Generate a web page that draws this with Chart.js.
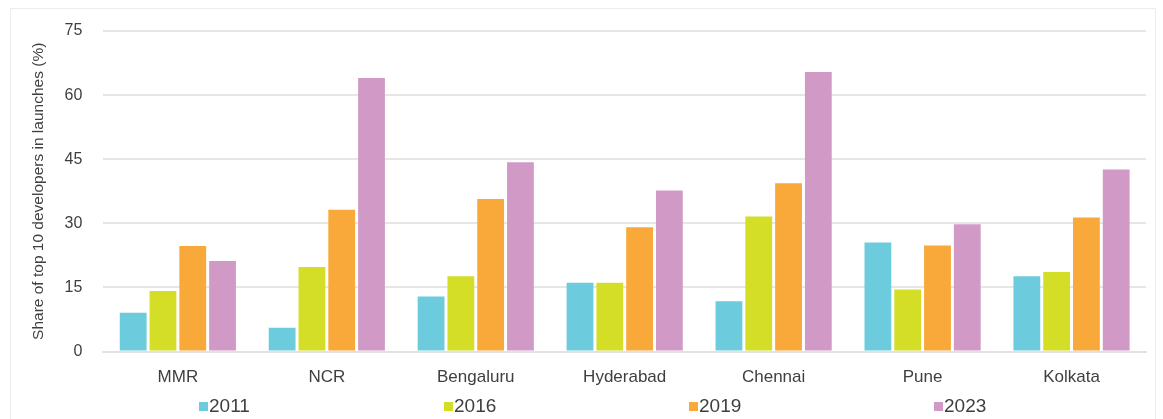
<!DOCTYPE html>
<html>
<head>
<meta charset="utf-8">
<script src="https://cdn.jsdelivr.net/npm/chart.js@4"></script>
<style>
  html, body { margin: 0; padding: 0; background: #fff; overflow: hidden; }
  #wrap { position: relative; width: 1163px; height: 419px; }
  #frame { position: absolute; left: 10px; top: 8px; right: 7px; bottom: -4px; border: 1px solid #ececec; pointer-events: none; }
</style>
</head>
<body>
<div id="wrap">
  <canvas id="chart" width="1163" height="419"></canvas>
  <div id="frame"></div>
</div>
<script>
const cities = ['MMR', 'NCR', 'Bengaluru', 'Hyderabad', 'Chennai', 'Pune', 'Kolkata']
const years = ['2011', '2016', '2019', '2023']
const share2011 = [9.1, 5.6, 12.9, 16.1, 11.8, 25.5, 17.6]
const share2016 = [14.2, 19.8, 17.6, 16.1, 31.6, 14.5, 18.6]
const share2019 = [24.7, 33.2, 35.7, 29.1, 39.4, 24.8, 31.4]
const share2023 = [21.2, 64.0, 44.3, 37.7, 65.4, 29.8, 42.6]
const colors = ['#6ccbdc', '#d4de27', '#f8a93a', '#d19ac6']

const font = "'Liberation Sans', Arial, sans-serif"
const textColor = '#3f3f3f'

const series = [share2011, share2016, share2019, share2023]

// legend items sit far apart in the original, so draw them by hand
const spreadLegend = {
	id: 'spreadLegend',
	afterDraw(chart) {
		const { ctx } = chart
		const startX = 199
		const step = 245
		const y = 406
		ctx.save()
		ctx.font = '19px ' + font
		ctx.textBaseline = 'middle'
		ctx.textAlign = 'left'
		chart.data.datasets.forEach((ds, i) => {
			const x = startX + i * step
			ctx.fillStyle = ds.backgroundColor
			ctx.fillRect(x, y - 4, 9, 9)
			ctx.fillStyle = textColor
			ctx.fillText(ds.label, x + 10, y + 1)
		})
		ctx.restore()
	},
}

const ctx = document.getElementById('chart').getContext('2d')
new Chart(ctx, {
	type: 'bar',
	data: {
		labels: cities,
		datasets: years.map((y, i) => ({
			label: y,
			data: series[i],
			backgroundColor: colors[i],
			borderWidth: 0,
			categoryPercentage: 0.8,
			barPercentage: 0.9,
		})),
	},
	plugins: [spreadLegend],
	options: {
		responsive: false,
		animation: false,
		layout: { padding: { left: 29, right: 17, top: 31, bottom: 23 } },
		plugins: {
			tooltip: { enabled: false },
			legend: { display: false },
		},
		scales: {
			x: {
				grid: { display: false },
				border: { color: '#e2e2e2', width: 2 },
				ticks: { color: textColor, font: { family: font, size: 17 }, padding: 8 },
			},
			y: {
				min: 0,
				max: 75,
				ticks: { stepSize: 15, color: textColor, font: { family: font, size: 16 }, padding: 21 },
				grid: { color: '#e6e6e6', lineWidth: 2, drawTicks: false },
				border: { display: false },
				title: {
					display: true,
					text: 'Share of top 10 developers in launches (%)',
					color: textColor,
					font: { family: font, size: 15.5 },
					padding: { top: 0, bottom: -4 },
				},
			},
		},
	},
})
</script>
</body>
</html>
